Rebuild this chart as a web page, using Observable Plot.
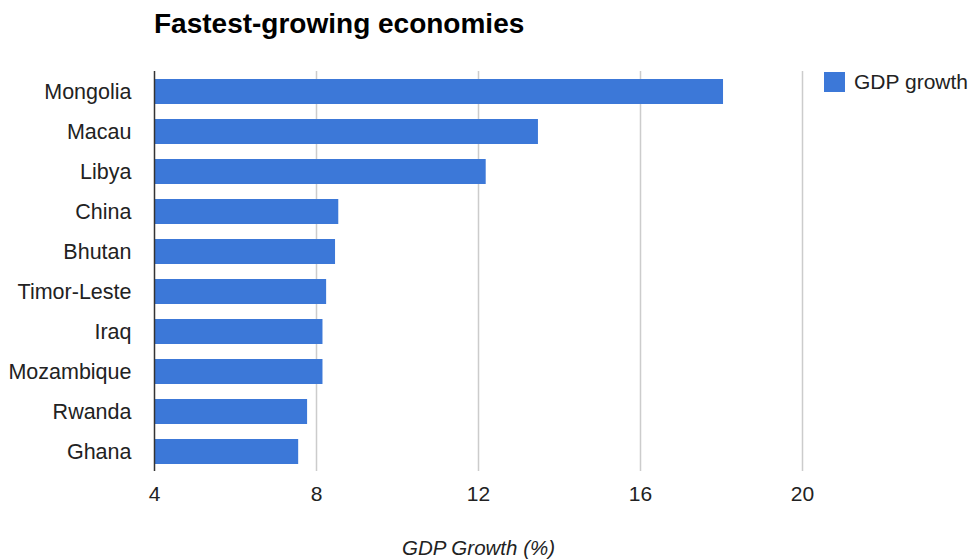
<!DOCTYPE html>
<html>
<head>
<meta charset="utf-8">
<script src="https://cdn.jsdelivr.net/npm/d3@7"></script>
<script src="https://cdn.jsdelivr.net/npm/@observablehq/plot@0.6"></script>
<style>
  html, body { margin: 0; padding: 0; background: #fff; }
  #wrap { position: relative; width: 971px; height: 559px; font-family: "Liberation Sans", Arial, sans-serif; }
  #title { position: absolute; left: 154px; top: 8px; font-size: 28px; font-weight: bold; color: #000; white-space: nowrap; }
  #legend { position: absolute; left: 824px; top: 72px; height: 20px; display: flex; align-items: center; font-size: 21px; color: #222; white-space: nowrap; }
  #legend .sw { width: 21px; height: 20px; background: #3c78d8; margin-right: 9px; flex: none; }
  #chart { position: absolute; left: 0; top: 0; }
</style>
</head>
<body>
<div id="wrap">
  <div id="chart"></div>
  <div id="title">Fastest-growing economies</div>
  <div id="legend"><div class="sw"></div><span>GDP growth</span></div>
</div>
<script>
const countries = ["Mongolia", "Macau", "Libya", "China", "Bhutan", "Timor-Leste", "Iraq", "Mozambique", "Rwanda", "Ghana"];
const growth = [18.05, 13.48, 12.19, 8.55, 8.47, 8.25, 8.16, 8.16, 7.78, 7.56];
const xTicks = [4, 8, 12, 16, 20];
const seriesName = "GDP growth";
const axisTitle = "GDP Growth (%)";

const data = countries.map((c, i) => ({country: c, value: growth[i]}));

const chart = Plot.plot({
  width: 971,
  height: 559,
  marginTop: 71,
  marginBottom: 88,
  marginLeft: 154,
  marginRight: 169,
  style: {fontFamily: "'Liberation Sans', Arial, sans-serif", background: "transparent"},
  x: {domain: [4, 20], ticks: xTicks},
  y: {domain: countries, paddingInner: 0.375, paddingOuter: 0.1875},
  marks: [
    Plot.gridX(xTicks.slice(1), {stroke: "#cccccc", strokeOpacity: 1, strokeWidth: 1.5}),
    Plot.barX(data, {y: "country", x1: () => 4, x2: "value", fill: "#3c78d8"}),
    Plot.ruleX([4], {stroke: "#333333", strokeWidth: 1.5}),
    Plot.axisX({ticks: xTicks, tickSize: 0, tickPadding: 15, fontSize: 21, fill: "#222", label: null}),
    Plot.axisY({tickSize: 0, tickPadding: 23, fontSize: 21.5, fill: "#222", label: null}),
    Plot.text([axisTitle], {frameAnchor: "bottom", dy: 83, dx: 0, fontSize: 20.5, fontStyle: "italic", fill: "#222"})
  ]
});
document.getElementById("chart").appendChild(chart);
</script>
</body>
</html>
